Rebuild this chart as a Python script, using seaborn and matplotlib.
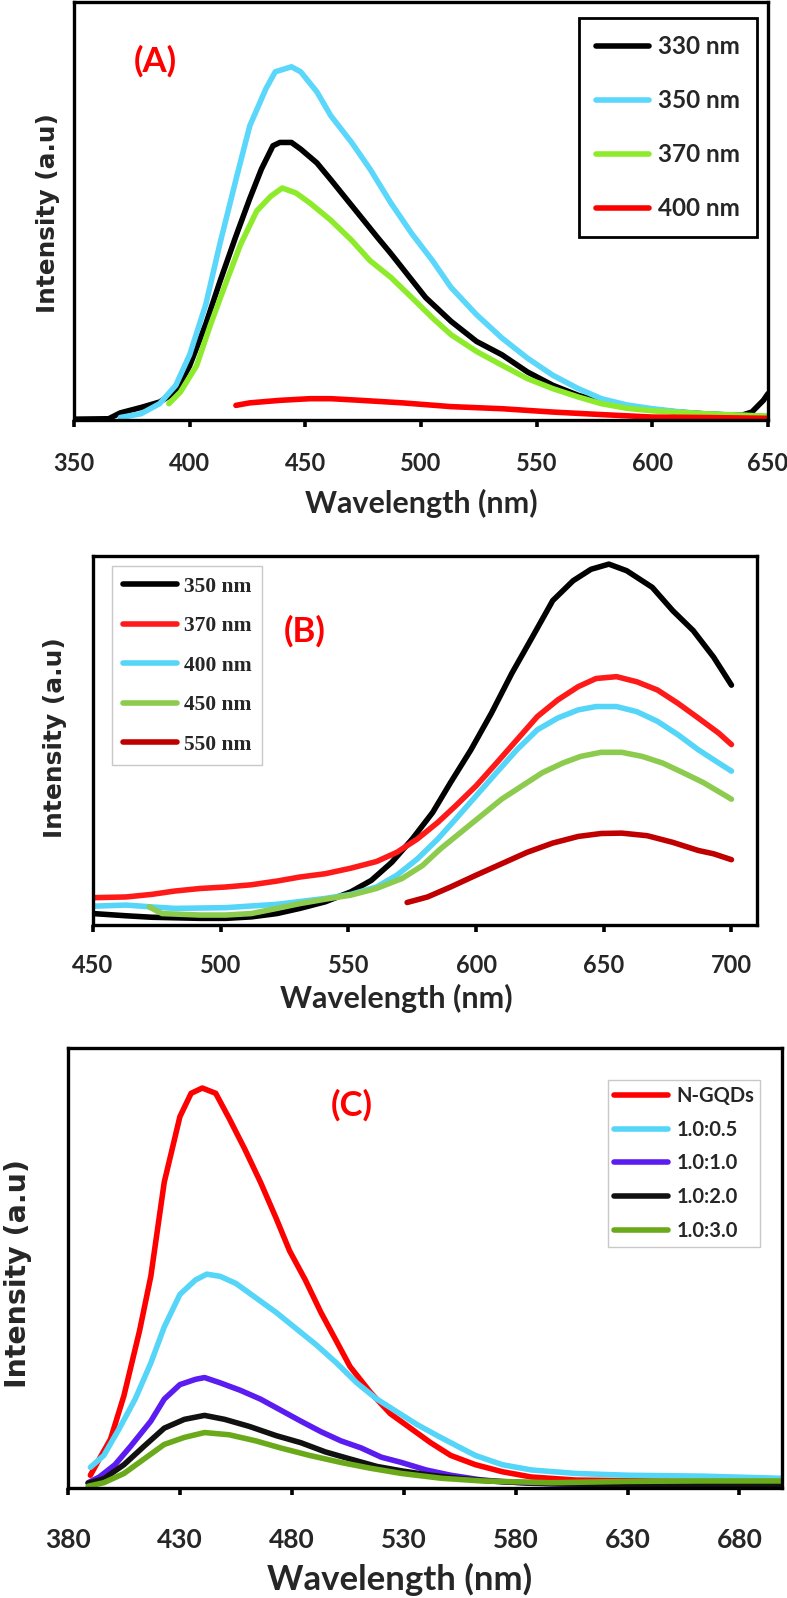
import matplotlib
matplotlib.use("Agg")
import matplotlib.pyplot as plt
import seaborn as sns

# ---------- panel A : excitation 330-400 nm ----------
a_labels = ["330 nm", "350 nm", "370 nm", "400 nm"]
a_colors = ["#000000", "#5AD7FA", "#8EEB2C", "#FF0000"]
a330_x = [350, 365, 370, 379, 387, 394, 400, 407, 413, 420, 426, 431, 436, 439, 444, 448, 455, 461, 468, 474,
          481, 487, 494, 502, 513, 524, 535, 546, 557, 568, 578, 589, 600, 611, 622, 633, 639, 643, 648, 650]
a330_y = [0.2, 0.3, 1.7, 3.0, 4.3, 6.7, 13, 23, 33, 44, 53, 60, 65.6, 66.4, 66.4, 64.8, 61.5, 57.5, 52.7, 48.6,
          43.8, 39.8, 34.9, 29.3, 23.6, 18.8, 15.6, 11.5, 8.3, 5.9, 4.3, 3.3, 2.5, 1.9, 1.5, 1.2, 1.2, 1.9, 4.7, 6.3]
a350_x = [370, 379, 387, 394, 400, 407, 413, 420, 426, 433, 437, 444, 448, 455, 461, 470, 478, 487, 496, 505,
          513, 524, 535, 546, 557, 568, 578, 589, 600, 611, 622, 633, 650]
a350_y = [0.6, 1.5, 3.9, 8.3, 15.6, 27.7, 42, 57.5, 70.4, 79.3, 83.3, 84.5, 83.3, 78.5, 72.8, 66.4, 60, 51.9, 44.6, 38.1,
          31.7, 25.2, 19.6, 14.8, 10.7, 7.5, 5.1, 3.6, 2.7, 2.0, 1.5, 1.2, 0.9]
a370_x = [391, 396, 403, 409, 416, 422, 429, 435, 440, 446, 452, 461, 470, 478, 487, 496, 505, 513, 524, 535,
          546, 557, 568, 578, 589, 600, 622, 650]
a370_y = [3.9, 6.7, 13, 22.8, 33.3, 42, 50, 53.5, 55.5, 54.3, 51.9, 47.8, 43, 38.1, 34.1, 29.3, 24.4, 20.4, 16.4, 13.1,
          9.9, 7.5, 5.5, 3.9, 2.8, 2.2, 1.5, 0.9]
a400_x = [420, 426, 439, 452, 461, 474, 492, 513, 535, 557, 578, 600, 622, 650]
a400_y = [3.5, 4.1, 4.7, 5.1, 5.1, 4.7, 4.1, 3.2, 2.7, 1.9, 1.3, 0.7, 0.6, 0.4]

# ---------- panel B : excitation 350-550 nm ----------
b_labels = ["350 nm", "370 nm", "400 nm", "450 nm", "550 nm"]
b_colors = ["#000000", "#FF1A1A", "#55D5F8", "#8CCB4E", "#C00000"]
b350_x = [450, 463, 473, 492, 502, 512, 522, 531, 541, 551, 559, 567, 575, 583, 590, 598, 606, 614, 622, 630,
          638, 645, 652, 659, 669, 677, 685, 693, 700]
b350_y = [3.1, 2.5, 2.1, 1.8, 1.8, 2.2, 3.1, 4.5, 6.3, 9.0, 12.1, 17.0, 23.3, 30.5, 38.6, 47.5, 57.4, 68.2, 78.0, 87.9,
          93.3, 96.4, 97.8, 96.0, 91.5, 85.2, 79.8, 72.6, 65.0]
b370_x = [450, 463, 473, 482, 492, 502, 512, 522, 531, 541, 551, 561, 569, 577, 585, 592, 600, 608, 616, 624,
          632, 640, 647, 655, 663, 671, 679, 687, 695, 700]
b370_y = [7.4, 7.6, 8.3, 9.2, 9.9, 10.3, 10.9, 11.9, 13.0, 13.9, 15.4, 17.2, 19.7, 23.3, 27.8, 32.3, 37.7, 43.9, 50.2, 56.5,
          61.0, 64.6, 66.8, 67.3, 65.9, 63.7, 60.1, 56.1, 52.0, 48.9]
b400_x = [450, 463, 473, 482, 502, 522, 541, 551, 561, 569, 577, 585, 592, 600, 608, 616, 624, 632, 640, 647,
          655, 663, 671, 679, 687, 695, 700]
b400_y = [5.1, 5.4, 4.9, 4.5, 4.7, 5.6, 7.2, 8.3, 10.3, 13.5, 17.9, 23.3, 28.7, 35.0, 41.3, 47.5, 52.9, 56.1, 58.3, 59.2,
          59.2, 57.8, 55.2, 51.6, 47.5, 43.9, 41.7]
b450_x = [472, 477, 492, 502, 512, 522, 531, 541, 551, 561, 571, 579, 586, 594, 602, 610, 618, 626, 634, 641,
          649, 657, 665, 673, 681, 689, 700]
b450_y = [4.9, 3.1, 2.7, 2.7, 3.1, 4.5, 5.8, 7.0, 8.1, 9.9, 12.6, 16.1, 20.6, 25.1, 29.6, 34.1, 37.7, 41.3, 43.9, 45.7,
          46.8, 46.8, 45.7, 43.9, 41.3, 38.6, 34.1]
b550_x = [573, 581, 590, 600, 610, 620, 630, 640, 649, 657, 667, 677, 687, 693, 700]
b550_y = [6.1, 7.6, 10.3, 13.5, 16.6, 19.7, 22.2, 24.0, 24.8, 24.9, 24.2, 22.4, 20.2, 19.3, 17.7]

# ---------- panel C : N-GQDs ratios ----------
c_labels = ["N-GQDs", "1.0:0.5", "1.0:1.0", "1.0:2.0", "1.0:3.0"]
c_colors = ["#FF0000", "#55D5F8", "#5A1CF0", "#111111", "#6AAA1A"]
cn_x = [390, 394, 399, 405, 412, 417, 423, 430, 435, 440, 446, 452, 459, 466, 473, 479, 486, 493, 500, 506,
        515, 524, 533, 542, 551, 562, 574, 587, 607, 641, 699]
cn_y = [2.9, 6.6, 11.1, 21.0, 35.8, 48.1, 69.5, 84.4, 89.7, 90.9, 89.7, 84.0, 77.0, 69.5, 61.3, 53.9, 47.3, 39.9, 33.3, 27.6,
        21.8, 16.9, 13.6, 10.3, 7.4, 5.3, 3.7, 2.5, 1.8, 1.6, 1.5]
c05_x = [390, 396, 403, 410, 417, 423, 430, 437, 442, 448, 455, 464, 473, 482, 491, 500, 509, 518, 527, 536,
         545, 554, 562, 574, 587, 607, 630, 663, 699]
c05_y = [4.7, 7.4, 13.6, 20.2, 28.4, 36.6, 44.0, 47.3, 48.6, 48.1, 46.5, 43.2, 39.9, 36.2, 32.5, 28.4, 23.9, 20.2, 17.3, 14.4,
         11.9, 9.5, 7.4, 5.3, 4.1, 3.3, 2.9, 2.7, 2.2]
c10_x = [389, 394, 401, 408, 417, 423, 430, 437, 441, 448, 457, 466, 475, 484, 493, 502, 511, 520, 529, 540,
         551, 565, 585, 619, 699]
c10_y = [1.2, 2.5, 5.3, 9.5, 15.2, 20.2, 23.5, 24.7, 25.1, 23.9, 22.2, 20.2, 17.7, 15.2, 12.8, 10.7, 9.1, 7.0, 5.8, 4.1,
         2.9, 1.8, 1.1, 0.6, 0.4]
c20_x = [389, 396, 405, 414, 423, 432, 441, 450, 461, 473, 484, 495, 506, 518, 529, 542, 556, 574, 596, 619, 699]
c20_y = [1.1, 2.1, 5.3, 9.5, 13.6, 15.6, 16.5, 15.6, 14.0, 11.9, 10.3, 8.2, 6.6, 4.9, 3.9, 2.9, 2.1, 1.4, 1.0, 0.8, 0.8]
c30_x = [389, 396, 405, 414, 423, 432, 441, 452, 464, 475, 488, 502, 515, 529, 547, 565, 596, 630, 663, 699]
c30_y = [0.4, 1.2, 3.3, 6.6, 9.9, 11.5, 12.6, 12.1, 10.7, 9.1, 7.4, 5.8, 4.5, 3.3, 2.2, 1.6, 1.2, 1.5, 1.6, 1.6]

a_ticks = [350, 400, 450, 500, 550, 600, 650]
b_ticks = [450, 500, 550, 600, 650, 700]
c_ticks = [380, 430, 480, 530, 580, 630, 680]

sns.set_style("white")
plt.rcParams["font.family"] = ["Lato", "DejaVu Sans"]
plt.rcParams["lines.solid_capstyle"] = "round"

W, H = 787, 1598
fig = plt.figure(figsize=(W / 100, H / 100), dpi=100)


def px_axes(left, top, right, bottom):
    return fig.add_axes([left / W, 1 - bottom / H, (right - left) / W, (bottom - top) / H])


def style_axes(ax, xlim, ticks, tsize, pad):
    ax.set_xlim(*xlim)
    ax.set_ylim(0, 100)
    ax.set_xticks(ticks)
    ax.set_yticks([])
    for s in ax.spines.values():
        s.set_visible(True)
        s.set_color("black")
        s.set_linewidth(2.4)
    ax.tick_params(axis="x", direction="out", length=5, width=2.6, color="black",
                   pad=pad, labelsize=tsize, bottom=True)
    for lab in ax.get_xticklabels():
        lab.set_fontweight("bold")


def put_labels(ax, xsize, xpos, ysize, ypos):
    ax.set_xlabel("Wavelength (nm)", fontsize=xsize, fontweight="bold", va="center", ha="center")
    ax.xaxis.set_label_coords(xpos[0] / W, 1 - xpos[1] / H, transform=fig.transFigure)
    ax.set_ylabel("Intensity (a.u)", fontsize=ysize, fontweight="bold", family="DejaVu Sans",
                  va="center", ha="center")
    ax.yaxis.set_label_coords(ypos[0] / W, 1 - ypos[1] / H, transform=fig.transFigure)


LW = 4.0

# panel A
axA = px_axes(74, 2, 768, 420)
for xs, ys, c, lab in zip([a330_x, a350_x, a370_x, a400_x], [a330_y, a350_y, a370_y, a400_y], a_colors, a_labels):
    sns.lineplot(x=xs, y=ys, color=c, lw=LW, label=lab, ax=axA, legend=False, estimator=None)
style_axes(axA, (350, 650), a_ticks, 17, 18)
put_labels(axA, 22, (421, 503), 17.8, (48, 213))
fig.text(155 / W, 1 - 61 / H, "(A)", color="#FF0000", fontsize=25, fontweight="bold", ha="center", va="center")
h, l = axA.get_legend_handles_labels()
leg = axA.legend(h, l, loc="upper left", bbox_to_anchor=(579 / W, 1 - 18 / H), bbox_transform=fig.transFigure,
                 borderaxespad=0, frameon=True, fancybox=False, edgecolor="black", framealpha=1,
                 prop={"weight": "bold", "size": 17.5}, handlelength=2.2, handletextpad=0.35,
                 labelspacing=1.28, borderpad=0.7)
leg.get_frame().set_linewidth(2)

# panel B
axB = px_axes(93, 556, 757, 925)
for xs, ys, c, lab in zip([b350_x, b370_x, b400_x, b450_x, b550_x], [b350_y, b370_y, b400_y, b450_y, b550_y],
                          b_colors, b_labels):
    sns.lineplot(x=xs, y=ys, color=c, lw=LW, label=lab, ax=axB, legend=False, estimator=None)
style_axes(axB, (450, 710), b_ticks, 17, 16)
put_labels(axB, 22, (396, 998), 17.9, (55, 738))
fig.text(305 / W, 1 - 631 / H, "(B)", color="#FF0000", fontsize=25, fontweight="bold", ha="center", va="center")
h, l = axB.get_legend_handles_labels()
leg = axB.legend(h, l, loc="upper left", bbox_to_anchor=(112 / W, 1 - 566 / H), bbox_transform=fig.transFigure,
                 borderaxespad=0, frameon=True, fancybox=False, edgecolor="#C8C8C8", framealpha=1,
                 prop={"weight": "bold", "size": 15.5, "family": "Liberation Serif"}, handlelength=2.5,
                 handletextpad=0.33, labelspacing=0.9, borderpad=0.5)
leg.get_frame().set_linewidth(1)

# panel C
axC = px_axes(68, 1048, 782, 1488)
for xs, ys, c, lab in zip([cn_x, c05_x, c10_x, c20_x, c30_x], [cn_y, c05_y, c10_y, c20_y, c30_y],
                          c_colors, c_labels):
    sns.lineplot(x=xs, y=ys, color=c, lw=LW, label=lab, ax=axC, legend=False, estimator=None)
style_axes(axC, (380, 699), c_ticks, 19, 24)
put_labels(axC, 25, (400, 1579), 20.4, (18, 1273))
fig.text(352 / W, 1 - 1105 / H, "(C)", color="#FF0000", fontsize=25, fontweight="bold", ha="center", va="center")
h, l = axC.get_legend_handles_labels()
leg = axC.legend(h, l, loc="upper left", bbox_to_anchor=(608 / W, 1 - 1080 / H), bbox_transform=fig.transFigure,
                 borderaxespad=0, frameon=True, fancybox=False, edgecolor="#C8C8C8", framealpha=1,
                 prop={"weight": "bold", "size": 14.5}, handlelength=2.7, handletextpad=0.4,
                 labelspacing=0.68, borderpad=0.3)
leg.get_frame().set_linewidth(1)

fig.savefig("out.png", dpi=100)
